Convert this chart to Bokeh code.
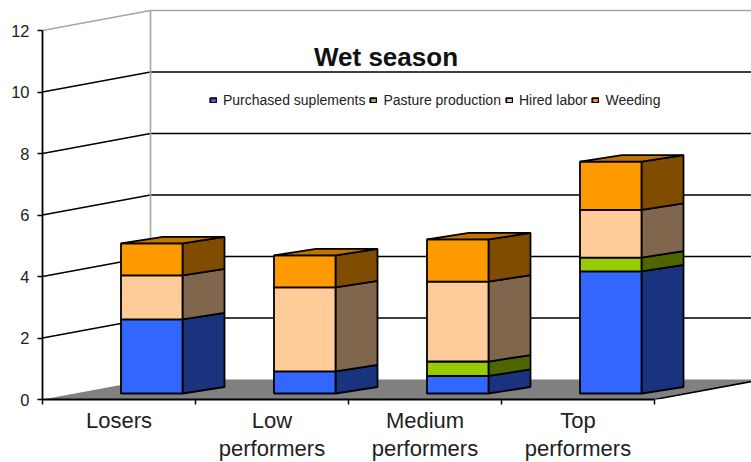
from bokeh.embed import file_html
from bokeh.resources import INLINE
from bokeh.plotting import figure
from bokeh.models import FixedTicker, Legend, LegendItem, Label
from bokeh.core.properties import value

# Cost per group, wet season
groups = ["Losers", "Low\nperformers", "Medium\nperformers", "Top\nperformers"]
series_names = ["Purchased suplements", "Pasture production", "Hired labor", "Weeding"]
purchased = [2.41, 0.72, 0.57, 3.97]
pasture = [0.0, 0.0, 0.47, 0.45]
hired = [1.43, 2.73, 2.60, 1.55]
weeding = [1.04, 1.04, 1.37, 1.57]
series = [purchased, pasture, hired, weeding]

front_colors = ["#3366ff", "#99cc00", "#ffcc99", "#ff9900"]
side_colors = ["#1a337f", "#4d6600", "#80664d", "#804d00"]
top_color = "#bf7300"
y_ticks = [0, 2, 4, 6, 8, 10, 12]

FONT = "Liberation Sans"
PX_PER_CAT = 153.0
PX_PER_UNIT = 30.75
FRAME_W, FRAME_H = 709, 399

# Oblique projection: how far the back wall and a bar's depth shift in data units
WALL_DX, WALL_DY = 108 / PX_PER_CAT, 20 / PX_PER_UNIT
BAR_DX, BAR_DY = 42 / PX_PER_CAT, 6.5 / PX_PER_UNIT
BAR_LEFT, BAR_WIDTH = 0.513, 0.402
BAR_BASE = 6 / PX_PER_UNIT
EDGE = 1.8

x_end = FRAME_W / PX_PER_CAT
y_end = FRAME_H / PX_PER_UNIT

p = figure(width=751, height=462, output_backend="svg", toolbar_location=None,
           x_range=(0, x_end), y_range=(0, y_end),
           frame_width=FRAME_W, frame_height=FRAME_H,
           min_border_left=42, min_border_right=0, min_border_top=0, min_border_bottom=63,
           x_axis_type="linear", y_axis_type="linear")
p.outline_line_color = None
p.grid.visible = False
p.background_fill_color = "white"
p.border_fill_color = "white"

# Floor
n = len(groups)
p.patch([0, WALL_DX, n + WALL_DX, n], [0, WALL_DY, WALL_DY, 0],
        fill_color="#808080", line_color=None)
p.line([n, n + WALL_DX], [0, WALL_DY], line_color="black", line_width=1.5)

# Wall gridlines; the top one and the wall corner are gray
for t in y_ticks[1:]:
    color = "#a6a6a6" if t == y_ticks[-1] else "black"
    p.line([0, WALL_DX, x_end], [t, t + WALL_DY, t + WALL_DY], line_color=color, line_width=1.6)
p.line([WALL_DX, WALL_DX], [WALL_DY, y_ticks[-1] + WALL_DY], line_color="#a6a6a6", line_width=1.6)

# Stacked boxes
legend_items = {}
for i in range(n):
    left = i + BAR_LEFT
    right = left + BAR_WIDTH
    base = BAR_BASE
    for s, vals in enumerate(series):
        v = vals[i]
        if v <= 0:
            continue
        top = base + v
        p.patch([right, right + BAR_DX, right + BAR_DX, right],
                [base, base + BAR_DY, top + BAR_DY, top],
                fill_color=side_colors[s], line_color="black", line_width=EDGE)
        r = p.quad(left=left, right=right, bottom=base, top=top,
                   fill_color=front_colors[s], line_color="black", line_width=EDGE)
        legend_items.setdefault(s, r)
        base = top
    p.patch([left, right, right + BAR_DX, left + BAR_DX],
            [base, base, base + BAR_DY, base + BAR_DY],
            fill_color=top_color, line_color="black", line_width=EDGE)

# Axes
xaxis = p.xaxis[0]
xaxis.ticker = FixedTicker(ticks=[i + 0.5 for i in range(n)], minor_ticks=list(range(n + 1)))
xaxis.major_label_overrides = {i + 0.5: g for i, g in enumerate(groups)}
xaxis.major_tick_in = 0
xaxis.major_tick_out = 0
xaxis.minor_tick_in = 0
xaxis.minor_tick_out = 5
xaxis.minor_tick_line_color = "black"
xaxis.minor_tick_line_width = 1.5
xaxis.axis_line_color = "black"
xaxis.axis_line_width = 1.8
xaxis.bounds = (0, n)
xaxis.major_label_text_font = FONT
xaxis.major_label_text_font_size = "22px"
xaxis.major_label_text_color = "#222222"
xaxis.major_label_text_line_height = 1.15
xaxis.major_label_standoff = 3

yaxis = p.yaxis[0]
yaxis.ticker = FixedTicker(ticks=y_ticks)
yaxis.major_tick_in = 0
yaxis.major_tick_out = 5
yaxis.minor_tick_line_color = None
yaxis.major_tick_line_color = "black"
yaxis.major_tick_line_width = 1.5
yaxis.axis_line_color = "black"
yaxis.axis_line_width = 1.8
yaxis.bounds = (0, y_ticks[-1])
yaxis.major_label_text_font = FONT
yaxis.major_label_text_font_size = "16.5px"
yaxis.major_label_text_color = "#222222"
yaxis.major_label_standoff = 8

# Title sits on the plot area, between the top wall lines
p.add_layout(Label(x=(385.5 - 42) / PX_PER_CAT, y=(FRAME_H - 56) / PX_PER_UNIT, text="Wet season",
                   text_font=FONT, text_font_style="bold", text_font_size="26px",
                   text_align="center", text_baseline="alphabetic", text_color="#111111"))

legend = Legend(items=[LegendItem(label=value(series_names[s]), renderers=[legend_items[s]])
                       for s in range(len(series))],
                orientation="horizontal", location=(167, 291),
                background_fill_alpha=0, border_line_color=None,
                glyph_width=8, glyph_height=6, label_standoff=6, spacing=4,
                padding=0, margin=0, label_height=10,
                label_text_font=FONT, label_text_font_size="14px", label_text_color="#222222")
p.add_layout(legend, "center")

open("out.html", "w").write(file_html(p, INLINE))
